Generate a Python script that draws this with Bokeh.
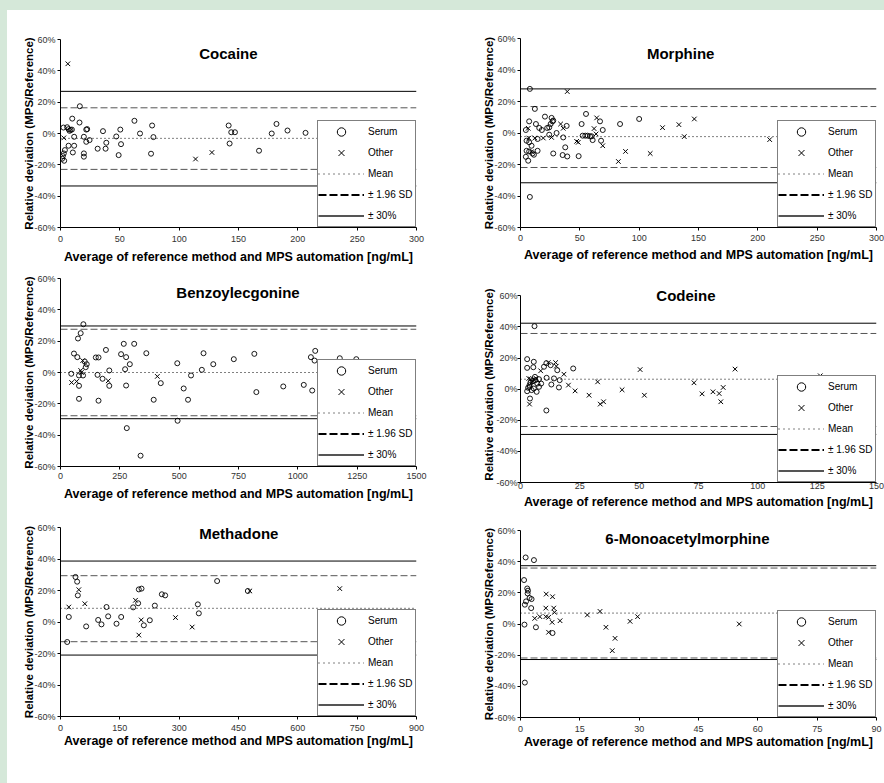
from bokeh.plotting import figure
from bokeh.models import (Range1d, FixedTicker, PrintfTickFormatter, Label,
                          Legend, LegendItem, ColumnDataSource)
from bokeh.layouts import column, row
from bokeh.embed import file_html
from bokeh.resources import INLINE

FONT = "Liberation Sans"
NAN = float("nan")
Y_TICKS = [-60, -40, -20, 0, 20, 40, 60]
X_TITLE = "Average of reference method and MPS automation [ng/mL]"
Y_TITLE = "Relative deviation (MPS/Reference)"
LEGEND_LABELS = ["Serum", "Other", "Mean", "\u00b1 1.96 SD", "\u00b1 30%"]

# ---------------- data (x = ng/mL, y = % deviation) ----------------
# lines: [mean, +1.96 SD, -1.96 SD, upper limit, lower limit]
cocaine_serum_x = [16.3, 9.9, 16.0, 2.5, 5.6, 6.8, 8.5, 7.6, 9.6, 11.5, 6.8, 11.5, 10.4, 3.7, 2.8, 2.0, 1.4, 3.1,
                   19.7, 21.7, 22.5, 21.7, 24.5, 19.7, 19.7, 35.8, 31.3, 38.6, 38.0, 47.0, 50.4, 51.0, 49.0,
                   62.3, 67.0, 77.2, 78.3, 76.3, 141.7, 143.9, 147.0, 142.5, 167.3, 178.0, 182.0, 191.3, 206.5]
cocaine_serum_y = [17.4, 9.5, 7.0, 3.8, 4.0, 2.8, 2.3, 1.7, 2.5, -2.1, -7.8, -7.8, -12.1, -10.6, -12.7, -14.4, -16.1, -17.4,
                   -2.1, 2.5, 2.8, -5.3, -4.2, -12.7, -14.8, 1.5, -9.7, -5.9, -9.7, -1.9, 2.5, -6.8, -13.8,
                   8.1, 0.0, 5.1, -2.3, -12.9, 5.1, 0.8, 0.8, -6.4, -11.0, 0.0, 6.1, 1.9, 0.4]
cocaine_other_x = [6.2, 2.8, 113.8, 127.6]
cocaine_other_y = [44.5, -2.8, -16.3, -12.1]
cocaine_lines = [-3.1, 16.4, -22.9, 26.9, -33.5]
cocaine_xticks = [0, 50, 100, 150, 200, 250, 300]

morphine_serum_x = [7.9, 12.1, 7.3, 13.0, 4.5, 15.8, 18.0, 20.6, 22.5, 24.2, 25.4, 26.2, 27.6, 27.0, 24.2, 30.4,
                    38.9, 36.0, 37.7, 35.5, 39.4, 27.6, 5.1, 7.3, 9.3, 5.1, 7.3, 10.1, 11.3, 4.5, 6.5, 14.4,
                    7.9, 14.4, 51.5, 55.2, 49.0, 52.4, 54.6, 56.6, 58.6, 60.0, 60.8, 67.0, 67.9, 69.3, 83.9, 100.0]
morphine_serum_y = [28.0, 15.3, 7.4, 5.7, 1.9, 3.2, 1.9, 10.4, 3.2, 3.6, 5.7, 9.6, 7.9, 7.4, -1.1, 0.0,
                    4.5, -2.8, -9.1, -14.0, -14.9, -13.0, -4.9, -5.9, -8.1, -11.3, -11.7, -13.0, -13.8, -15.1, -17.6, -11.3,
                    -40.6, -3.8, 5.7, 12.1, -14.7, -1.7, -1.7, -1.7, -2.1, -2.1, -4.5, 7.4, -4.9, 1.9, 5.7, 8.9]
morphine_other_x = [39.4, 6.5, 7.0, 9.3, 12.1, 19.2, 26.2, 33.8, 36.0, 47.3, 48.7, 64.2, 62.0, 63.7, 69.3,
                    82.5, 88.5, 109.3, 119.7, 133.5, 138.0, 146.5, 210.0]
morphine_other_y = [26.3, 3.0, -3.2, -11.9, -3.2, -3.2, -2.8, 5.7, 3.0, -5.3, -5.9, 9.6, 2.8, -0.6, -8.1,
                    -18.1, -11.7, -13.0, 3.4, 5.3, -2.3, 8.9, -4.2]
morphine_lines = [-2.3, 16.8, -21.9, 28.0, -31.6]
morphine_xticks = [0, 50, 100, 150, 200, 250, 300]

benzo_serum_x = [96.4, 85.0, 73.7, 56.7, 70.9, 102.0, 110.6, 106.3, 45.4, 78.0, 95.0, 78.0, 78.0, 148.9, 160.2,
                 191.4, 156.0, 177.2, 205.6, 205.6, 160.2, 255.2, 266.6, 276.5, 272.2, 292.1, 276.5, 310.5,
                 279.3, 361.6, 392.7, 422.5, 337.4, 492.0, 493.4, 519.0, 550.0, 537.4, 595.5, 602.6, 643.7,
                 730.2, 816.7, 825.2, 938.6, 1025.0, 1055.0, 1070.5, 1073.3, 1060.5, 1176.8, 1246.3]
benzo_serum_y = [30.8, 25.1, 21.7, 12.1, 9.8, 7.0, 5.3, 3.4, -0.8, -1.9, -1.9, -8.5, -16.8, 9.6, 9.6,
                 14.4, -1.5, -4.0, 1.3, -8.5, -18.0, 11.7, 18.3, 9.8, 2.1, 5.3, -8.3, 18.3,
                 -35.5, 12.3, -17.4, -6.8, -53.1, 5.9, -30.8, -10.2, -1.9, -17.4, 1.7, 12.3, 5.3,
                 8.5, 11.9, -12.5, -8.9, -7.9, 9.8, 7.6, 13.8, -11.5, 9.1, 8.5]
benzo_other_x = [46.8, 68.0, 93.6, 85.0, 88.0, 201.0, 408.0]
benzo_other_y = [-6.4, -5.7, 7.6, 1.3, 0.0, -5.3, -2.5]
benzo_lines = [0.0, 27.6, -27.6, 29.7, -29.5]
benzo_xticks = [0, 250, 500, 750, 1000, 1250, 1500]

codeine_serum_x = [5.9, 2.8, 5.6, 5.4, 2.8, 10.9, 12.7, 9.9, 15.5, 11.0, 14.1, 16.5, 13.0, 16.2, 22.2, 10.9,
                   2.8, 3.8, 4.2, 5.2, 6.3, 7.1, 7.8, 8.7, 4.0, 4.7, 5.6, 6.8, 3.2, 3.8, 6.1, 7.8]
codeine_serum_y = [40.5, 19.3, 17.6, 14.1, 13.7, 16.7, 15.4, 14.4, 12.2, 7.3, 6.9, 5.8, 3.0, 1.1, 13.3, -13.7,
                   -1.3, 2.6, 4.3, 5.1, 5.8, 3.6, 6.4, 3.6, -6.0, -0.6, 0.4, -1.7, 0.9, 1.5, 7.9, 1.5]
codeine_other_x = [3.8, 3.5, 4.2, 5.6, 6.6, 4.9, 8.5, 11.7, 14.8, 15.1, 18.3, 20.2, 23.0, 28.9, 32.5, 33.6, 35.0,
                   42.8, 50.4, 52.2, 73.1, 76.5, 81.1, 83.7, 84.4, 85.4, 90.4, 126.3]
codeine_other_y = [-9.6, 6.9, 6.4, 6.2, 6.9, 4.7, 11.8, 17.1, 17.1, 14.8, 9.6, 2.6, -1.1, -3.9, 4.7, -9.6, -8.1,
                   -0.4, 12.6, -3.9, 4.1, -3.0, -1.7, -2.8, -8.1, 1.1, 12.9, 8.6]
codeine_lines = [6.4, 35.8, -24.0, 42.4, -29.1]
codeine_xticks = [0, 25, 50, 75, 100, 125, 150]

methadone_serum_x = [16.9, 21.0, 37.9, 42.1, 43.8, 64.9, 95.2, 103.6, 116.3, 120.5, 141.6, 153.4, 183.7, 196.3,
                     198.0, 204.8, 210.7, 225.8, 238.5, 256.2, 264.6, 347.2, 349.7, 396.0, 473.6]
methadone_serum_y = [-12.7, 3.2, 28.6, 25.6, 16.9, -2.8, 1.3, -1.5, 9.5, 3.6, -1.1, 3.2, 9.3, 11.9,
                     20.7, 21.2, -2.1, 1.1, 10.4, 17.6, 16.9, 11.2, 5.5, 26.0, 19.7]
methadone_other_x = [21.0, 46.3, 61.5, 189.6, 198.0, 204.0, 290.7, 332.9, 478.6, 706.0]
methadone_other_y = [9.5, 20.5, 11.6, 13.8, -8.3, 1.3, 2.8, -3.2, 19.7, 21.2]
methadone_lines = [8.7, 29.4, -12.5, 38.7, -21.0]
methadone_xticks = [0, 150, 300, 450, 600, 750, 900]

mam_serum_x = [1.3, 3.4, 0.9, 1.7, 1.9, 1.8, 1.4, 1.1, 2.3, 2.8, 2.7, 1.0, 3.9, 8.1, 1.1]
mam_serum_y = [42.7, 41.0, 28.2, 22.8, 21.4, 19.6, 14.5, 12.4, 16.7, 16.0, 10.2, -0.4, -2.1, -5.8, -37.6]
mam_other_x = [3.6, 4.9, 6.4, 6.5, 6.4, 7.1, 7.1, 8.1, 8.4, 8.6, 8.0, 10.0, 16.9, 20.1, 21.6, 23.9, 23.2,
               27.7, 29.6, 55.3]
mam_other_y = [3.6, 4.7, 10.2, 19.2, 4.7, 4.3, -5.3, 17.5, 10.2, 7.5, 1.1, 2.1, 5.8, 8.1, -2.1, -9.2, -17.1,
               1.7, 4.7, 0.0]
mam_lines = [7.0, 35.9, -21.8, 37.4, -22.8]
mam_xticks = [0, 15, 30, 45, 60, 75, 90]


def make_panel(name, sx, sy, ox, oy, lines, xticks, geom):
    (w, h, bl, br, bt, bb, ytop, ty, tx, xtick, xs1, xs2, ys1, ys2) = geom
    xmax = xticks[-1]
    p = figure(width=w, height=h, x_range=Range1d(0, xmax), y_range=Range1d(-60, ytop),
               output_backend="svg", toolbar_location=None, title=None,
               min_border_left=bl, min_border_right=br, min_border_top=bt, min_border_bottom=bb)
    p.border_fill_color = None
    p.background_fill_color = None
    p.outline_line_color = None
    p.xgrid.visible = False
    p.ygrid.visible = False

    for ax in (p.xaxis[0], p.yaxis[0]):
        ax.axis_line_color = "black"
        ax.axis_line_width = 1
        ax.major_tick_line_color = "black"
        ax.major_tick_in = 0
        ax.major_tick_out = 3
        ax.minor_tick_in = 0
        ax.minor_tick_out = 0
        ax.major_label_text_font = FONT
        ax.major_label_text_font_size = "9px"
        ax.major_label_text_color = "#333333"
        ax.axis_label_text_font = FONT
        ax.axis_label_text_font_style = "bold"
        ax.axis_label_text_color = "black"

    p.xaxis.ticker = FixedTicker(ticks=xticks)
    p.xaxis.axis_label = X_TITLE
    p.xaxis.axis_label_text_font_size = "12.5px"
    p.xaxis.major_tick_out = xtick
    p.xaxis.major_label_standoff = xs1
    p.xaxis.axis_label_standoff = xs2

    p.yaxis.ticker = FixedTicker(ticks=Y_TICKS)
    p.yaxis.bounds = (Y_TICKS[0], Y_TICKS[-1])
    p.yaxis.formatter = PrintfTickFormatter(format="%d%%")
    p.yaxis.axis_label = Y_TITLE
    p.yaxis.axis_label_text_font_size = "11.5px"
    p.yaxis.major_label_standoff = ys1
    p.yaxis.axis_label_standoff = ys2

    mean, sd_hi, sd_lo, lim_hi, lim_lo = lines
    p.segment(x0=[0], x1=[xmax], y0=[mean], y1=[mean], line_color="black",
              line_width=1, line_dash="1 3")
    p.segment(x0=[0, 0], x1=[xmax, xmax], y0=[sd_hi, sd_lo], y1=[sd_hi, sd_lo],
              line_color="#555555", line_width=1, line_dash="7 3")
    p.segment(x0=[0, 0], x1=[xmax, xmax], y0=[lim_hi, lim_lo], y1=[lim_hi, lim_lo],
              line_color="black", line_width=1)

    p.scatter(sx, sy, marker="circle", size=5, fill_color=None,
              line_color="black", line_width=0.9)
    p.scatter(ox, oy, marker="x", size=6.5, line_color="black", line_width=1)

    # legend-only renderers (no visible data)
    nan_src = ColumnDataSource(data=dict(x=[NAN], y=[NAN]))
    l_serum = p.scatter("x", "y", source=nan_src, marker="circle", size=7, fill_color=None,
                        line_color="black", line_width=1)
    l_other = p.scatter("x", "y", source=nan_src, marker="x", size=8, line_color="black", line_width=1)
    l_mean = p.line("x", "y", source=nan_src, line_color="black", line_width=1, line_dash="1 4")
    l_sd = p.line("x", "y", source=nan_src, line_color="black", line_width=2, line_dash="8 3")
    l_lim = p.line("x", "y", source=nan_src, line_color="#555555", line_width=2)

    legend = Legend(items=[LegendItem(label=LEGEND_LABELS[0], renderers=[l_serum]),
                           LegendItem(label=LEGEND_LABELS[1], renderers=[l_other]),
                           LegendItem(label=LEGEND_LABELS[2], renderers=[l_mean]),
                           LegendItem(label=LEGEND_LABELS[3], renderers=[l_sd]),
                           LegendItem(label=LEGEND_LABELS[4], renderers=[l_lim])],
                    location="bottom_right", margin=0, padding=0, spacing=0,
                    glyph_width=46, glyph_height=21, label_height=21, label_width=47,
                    label_standoff=4,
                    border_line_color="black", border_line_width=1,
                    background_fill_color="white", background_fill_alpha=1,
                    label_text_font=FONT, label_text_font_size="10px", label_text_color="black")
    p.add_layout(legend)

    p.add_layout(Label(x=tx, y=ty, text=name, text_font=FONT, text_font_size="15px",
                       text_font_style="bold", text_align="center", text_baseline="middle",
                       text_color="black"))
    return p


# geom: width, height, min_border L, R, T, B, y top, title y (%), title x (data),
#       x tick out, x label standoff, x title standoff, y label standoff, y title standoff
p1 = make_panel("Cocaine", cocaine_serum_x, cocaine_serum_y, cocaine_other_x, cocaine_other_y,
                cocaine_lines, cocaine_xticks, (446, 268, 60, 30, 39, 41, 60, 51.1, 141.5, 3, 5, 5, 2, -4))
p3 = make_panel("Benzoylecgonine", benzo_serum_x, benzo_serum_y, benzo_other_x, benzo_other_y,
                benzo_lines, benzo_xticks, (446, 244, 60, 30, 10, 46, 60, 51.1, 748, 3, 3, 5, 2, -4))
p5 = make_panel("Methadone", methadone_serum_x, methadone_serum_y, methadone_other_x, methadone_other_y,
                methadone_lines, methadone_xticks, (446, 268, 60, 30, 15, 64, 60, 56.2, 450.8, 3, 5, 0, 2, -4))
p2 = make_panel("Morphine", morphine_serum_x, morphine_serum_y, morphine_other_x, morphine_other_y,
                morphine_lines, morphine_xticks, (438, 268, 74, 8, 38, 41, 60, 50.5, 135, 3, 4, 4, 2, -4))
p4 = make_panel("Codeine", codeine_serum_x, codeine_serum_y, codeine_other_x, codeine_other_y,
                codeine_lines, codeine_xticks, (438, 244, 74, 8, 18, 30, 66, 60, 69.7, 0, 0, 3, 0, -2))
p6 = make_panel("6-Monoacetylmorphine", mam_serum_x, mam_serum_y, mam_other_x, mam_other_y,
                mam_lines, mam_xticks, (438, 268, 74, 8, 18, 63, 60, 54.9, 42.2, 3, 5, 0, 2, -4))

layout = row(column(p1, p3, p5, spacing=0), column(p2, p4, p6, spacing=0), spacing=0)

html = file_html(layout, INLINE, title="Relative deviation plots")
css = ("<style>html{background-color:#ffffff;"
       "background-image:linear-gradient(90deg,#d5e8d9 7px,rgba(255,255,255,0) 7px),"
       "linear-gradient(180deg,#d5e8d9 10px,rgba(255,255,255,0) 10px);"
       "background-repeat:no-repeat;min-height:100%;}body{background:transparent;}</style>")
html = html.replace("</head>", css + "</head>", 1)
open("out.html", "w").write(html)
